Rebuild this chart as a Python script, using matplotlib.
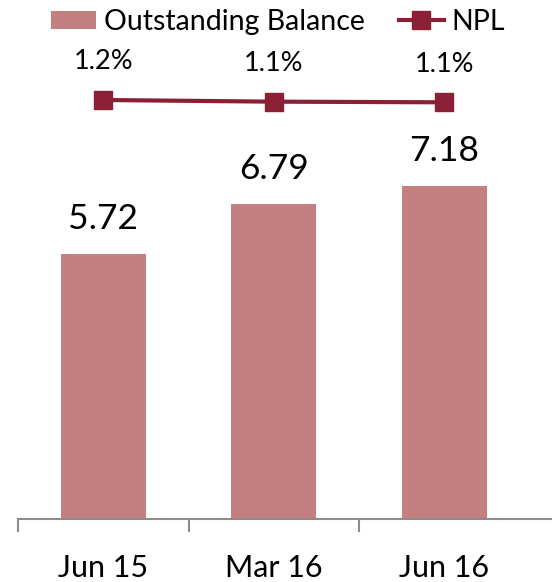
import numpy as np
import matplotlib
matplotlib.use('Agg')
from matplotlib import pyplot as plt
from matplotlib.lines import Line2D
from matplotlib.patches import Patch

plt.rcParams['font.family'] = ['Lato', 'DejaVu Sans']

periods = ['Jun 15', 'Mar 16', 'Jun 16']
balance = [5.72, 6.79, 7.18]
npl = [1.17, 1.12, 1.10]
npl_labels = ['1.2%', '1.1%', '1.1%']

bar_color = '#C48081'
line_color = '#8B1F35'
axis_color = '#8C8C8C'

W, H = 552, 582
fig = plt.figure(figsize=(W / 100, H / 100), dpi=100)

# axes in pixel terms: x-axis at y=519, starts at x=18
left, bottom = 18 / W, (H - 519) / H
ax = fig.add_axes([left, bottom, 1 - left, 1 - bottom])
ax2 = ax.twinx()

x = np.arange(len(periods))
ax.bar(x, balance, width=0.5, color=bar_color, zorder=2)
ax.set_xlim(-0.5, 2.5 + 22.5 / 170.5)
ax.set_ylim(0, 519 / 46.4)

for xi, v in zip(x, balance):
    ax.annotate(f'{v:.2f}', (xi, v), xytext=(0, 25), textcoords='offset points',
                ha='center', va='center', fontsize=25.5, color='black')

# secondary axis for NPL
px_per_unit = 33.0
top_val = npl[0] + 100 / px_per_unit
ax2.set_ylim(top_val - 519 / px_per_unit, top_val)
ax2.plot(x, npl, color=line_color, lw=3, marker='s', ms=13.5, zorder=3)
for xi, v, lab in zip(x, npl, npl_labels):
    ax2.annotate(lab, (xi, v), xytext=(0, 27.5), textcoords='offset points',
                 ha='center', va='center', fontsize=19.5, color='black')

for a in (ax, ax2):
    for s in ['top', 'right', 'left']:
        a.spines[s].set_visible(False)
    a.set_yticks([])
ax2.spines['bottom'].set_visible(False)
ax.spines['bottom'].set_color(axis_color)
ax.spines['bottom'].set_linewidth(1.5)

ax.set_xticks(x)
ax.set_xticklabels(periods, fontsize=22)
ax.tick_params(axis='x', which='major', length=0, pad=25)
ax.set_xticks([-0.5, 0.5, 1.5], minor=True)
ax.tick_params(axis='x', which='minor', length=9, width=1.5, color=axis_color, direction='out')

handles = [Patch(facecolor=bar_color, edgecolor='none'),
           Line2D([], [], color=line_color, lw=3, marker='s', ms=13.5)]
fig.legend(handles, ['Outstanding Balance', 'NPL'], loc='upper left',
           bbox_to_anchor=(48 / W, 1 - 6 / H), ncol=2, frameon=False, fontsize=20.5,
           handlelength=1.6, handleheight=0.6, handletextpad=0.25,
           columnspacing=1.2, borderaxespad=0, borderpad=0.1)

fig.savefig('out.png', dpi=100)
